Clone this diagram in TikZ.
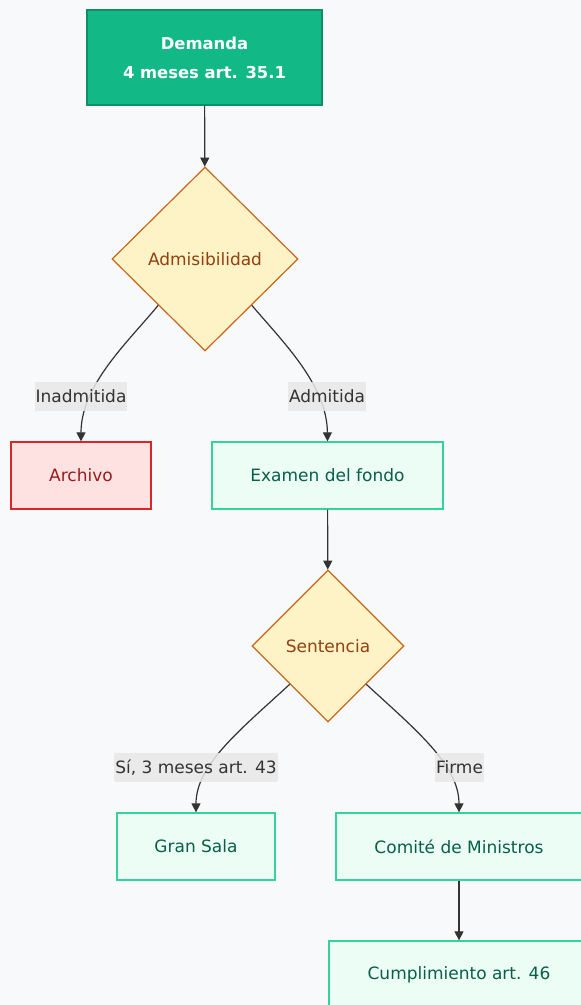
\documentclass[tikz,border=0pt]{standalone}
\usepackage{fontspec}
\setmainfont{DejaVu Sans}
\usetikzlibrary{shapes.geometric,arrows.meta}
\definecolor{bgc}{HTML}{F8F9FB}
\definecolor{demfill}{HTML}{12B886}
\definecolor{demline}{HTML}{0E8F68}
\definecolor{decfill}{HTML}{FEF3C7}
\definecolor{decline}{HTML}{C8661A}
\definecolor{dectext}{HTML}{92400E}
\definecolor{redfill}{HTML}{FEE2E2}
\definecolor{redline}{HTML}{DC2626}
\definecolor{redtext}{HTML}{991B1B}
\definecolor{grnfill}{HTML}{ECFDF5}
\definecolor{grnline}{HTML}{34D399}
\definecolor{grntext}{HTML}{065F46}
\definecolor{edgec}{HTML}{333333}
\definecolor{lblfill}{HTML}{E8E8E8}
\tikzset{
  txt/.style={font=\fontsize{17}{20}\selectfont},
  startbox/.style={txt, draw=demline, fill=demfill, text=white, line width=1.2pt, minimum width=235, minimum height=95, align=center, font=\fontsize{16.4}{29}\selectfont\bfseries},
  decbox/.style={txt, shape=diamond, draw=decline, fill=decfill, text=dectext, line width=1.2pt, inner sep=0pt, aspect=1},
  redbox/.style={txt, draw=redline, fill=redfill, text=redtext, line width=1.3pt, minimum height=67},
  grnbox/.style={txt, draw=grnline, fill=grnfill, text=grntext, line width=1.3pt, minimum height=67},
  lbl/.style={txt, fill=lblfill, fill opacity=0.85, text opacity=1, text=edgec, inner xsep=1pt, inner ysep=0pt, minimum height=29},
  arr/.style={draw=edgec, line width=1.2pt, -{Triangle[length=9pt,width=9pt]}},
}
\begin{document}
\begin{tikzpicture}[x=1pt,y=-1pt]
\fill[bgc] (0,0) rectangle (581,1005);
\useasboundingbox (0,0) rectangle (581,1005);
\node[startbox] (dem) at (204.5,57.5) {Demanda\\4 meses art. 35.1};
\node[decbox, minimum width=186, minimum height=184] (adm) at (205,259) {Admisibilidad};
\node[redbox, minimum width=140] (arch) at (81,475.5) {Archivo};
\node[grnbox, minimum width=231] (exam) at (327.5,475.5) {Examen del fondo};
\node[decbox, minimum width=152, minimum height=152] (sent) at (328,646) {Sentencia};
\node[grnbox, minimum width=158] (gran) at (196,846.5) {Gran Sala};
\node[grnbox, minimum width=246] (comi) at (459,846.5) {Comité de Ministros};
\node[grnbox, minimum width=260] (cump) at (459,974.5) {Cumplimiento art. 46};
\draw[arr] (dem) -- (adm);
\draw[arr] (adm.south west) .. controls (128,342) and (81,385) .. (arch.north);
\draw[arr] (adm.south east) .. controls (283,342) and (327,385) .. (exam.north);
\draw[arr] (exam) -- (sent);
\draw[arr] (sent.south west) .. controls (240,730) and (196,765) .. (gran.north);
\draw[arr] (sent.south east) .. controls (416,730) and (459,765) .. (comi.north);
\draw[arr] (comi) -- (cump);
\node[lbl] (l1) at (81,396.5) {Inadmitida};
\node[lbl] (l2) at (327,396.5) {Admitida};
\node[lbl] (l3) at (196,767.5) {Sí, 3 meses art. 43};
\node[lbl] (l4) at (459.5,767.5) {Firme};
\end{tikzpicture}
\end{document}
